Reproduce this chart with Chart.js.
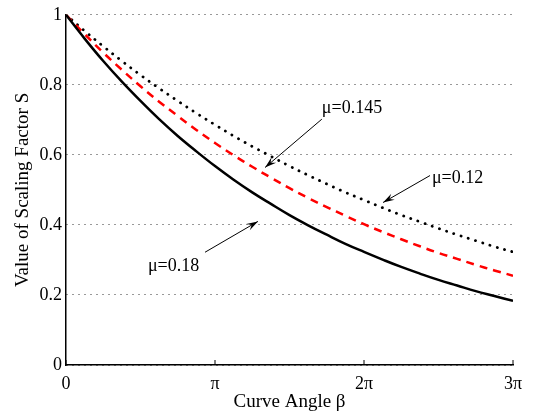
<!DOCTYPE html>
<html>
<head>
<meta charset="utf-8">
<script src="https://cdn.jsdelivr.net/npm/chart.js@4/dist/chart.umd.min.js"></script>
<style>
  html, body { margin: 0; padding: 0; background: #fff; }
  #wrap { width: 538px; height: 413px; }
</style>
</head>
<body>
<div id="wrap"><canvas id="chart" width="538" height="413"></canvas></div>
<script>
// Curve angle beta, in multiples of pi (step pi/8)
const betaOverPi = [0, 0.125, 0.25, 0.375, 0.5, 0.625, 0.75, 0.875, 1, 1.125, 1.25, 1.375, 1.5,
    1.625, 1.75, 1.875, 2, 2.125, 2.25, 2.375, 2.5, 2.625, 2.75, 2.875, 3];

// Scaling factor S
const sMu018 = [1, 0.932, 0.868, 0.809, 0.754, 0.702, 0.654, 0.610, 0.568, 0.529, 0.493, 0.460, 0.428,
    0.399, 0.372, 0.346, 0.323, 0.301, 0.280, 0.261, 0.243, 0.227, 0.211, 0.197, 0.183];
const sMu0145 = [1, 0.945, 0.892, 0.843, 0.796, 0.752, 0.711, 0.671, 0.634, 0.599, 0.566, 0.535, 0.505,
    0.477, 0.451, 0.426, 0.402, 0.380, 0.359, 0.339, 0.320, 0.303, 0.286, 0.270, 0.255];
const sMu012 = [1, 0.954, 0.910, 0.868, 0.828, 0.790, 0.754, 0.719, 0.686, 0.654, 0.624, 0.596, 0.568,
    0.542, 0.517, 0.493, 0.471, 0.449, 0.428, 0.409, 0.390, 0.372, 0.355, 0.338, 0.323];

const xTicks = [0, 1, 2, 3];
const xTickLabels = ['0', '\u03c0', '2\u03c0', '3\u03c0'];
const yTicks = [0, 0.2, 0.4, 0.6, 0.8, 1];

// callouts: text anchor and arrow (tail -> head) in data units
const callouts = [
    { text: '\u03bc=0.145', tx: 1.717, ty: 0.732, from: [1.717, 0.702], to: [1.336, 0.564] },
    { text: '\u03bc=0.12',  tx: 2.456, ty: 0.533, from: [2.443, 0.541], to: [2.128, 0.464] },
    { text: '\u03bc=0.18',  tx: 0.550, ty: 0.282, from: [0.933, 0.322], to: [1.288, 0.410] }
];

const serif = '"Liberation Serif", "DejaVu Serif", serif';

function pts(ys) {
    return betaOverPi.map((b, i) => ({ x: b, y: ys[i] }));
}

const calloutPlugin = {
    id: 'callouts',
    afterDatasetsDraw(chart) {
        const ctx = chart.ctx;
        const xs = chart.scales.x, ys = chart.scales.y;
        ctx.save();
        // small inward tick marks on the x axis
        ctx.strokeStyle = '#000';
        ctx.lineWidth = 1;
        xTicks.forEach(t => {
            const px = xs.getPixelForValue(t);
            ctx.beginPath();
            ctx.moveTo(px, ys.bottom);
            ctx.lineTo(px, ys.bottom - 5);
            ctx.stroke();
        });
        ctx.font = '18px ' + serif;
        ctx.fillStyle = '#000';
        ctx.textBaseline = 'middle';
        ctx.textAlign = 'left';
        callouts.forEach(c => {
            ctx.fillText(c.text, xs.getPixelForValue(c.tx), ys.getPixelForValue(c.ty));
            const x0 = xs.getPixelForValue(c.from[0]), y0 = ys.getPixelForValue(c.from[1]);
            const x1 = xs.getPixelForValue(c.to[0]), y1 = ys.getPixelForValue(c.to[1]);
            ctx.lineWidth = 1;
            ctx.beginPath();
            ctx.moveTo(x0, y0);
            ctx.lineTo(x1, y1);
            ctx.stroke();
            const a = Math.atan2(y1 - y0, x1 - x0);
            const len = 12, spread = 0.3;
            ctx.beginPath();
            ctx.moveTo(x1, y1);
            ctx.lineTo(x1 - len * Math.cos(a - spread), y1 - len * Math.sin(a - spread));
            ctx.lineTo(x1 - len * 0.6 * Math.cos(a), y1 - len * 0.6 * Math.sin(a));
            ctx.lineTo(x1 - len * Math.cos(a + spread), y1 - len * Math.sin(a + spread));
            ctx.closePath();
            ctx.fill();
        });
        ctx.restore();
    }
};

new Chart(document.getElementById('chart').getContext('2d'), {
    type: 'line',
    plugins: [calloutPlugin],
    data: {
        datasets: [
            {
                label: '\u03bc=0.18',
                data: pts(sMu018),
                borderColor: '#000',
                borderWidth: 2.5,
                pointRadius: 0,
                tension: 0.4
            },
            {
                label: '\u03bc=0.145',
                data: pts(sMu0145),
                borderColor: '#ff0000',
                borderWidth: 2.5,
                borderDash: [8, 6],
                pointRadius: 0,
                tension: 0.4
            },
            {
                label: '\u03bc=0.12',
                data: pts(sMu012),
                borderColor: '#000',
                borderWidth: 2.8,
                borderDash: [0.1, 7.5],
                borderCapStyle: 'round',
                pointRadius: 0,
                tension: 0.4
            }
        ]
    },
    options: {
        responsive: false,
        animation: false,
        layout: { padding: { top: 14, right: 25, left: 0, bottom: 0 } },
        plugins: { legend: { display: false }, tooltip: { enabled: false } },
        scales: {
            x: {
                type: 'linear',
                min: 0,
                max: 3,
                afterBuildTicks: s => { s.ticks = xTicks.map(v => ({ value: v })); },
                afterFit: s => { s.height = 48; },
                ticks: {
                    callback: (v) => xTickLabels[xTicks.indexOf(v)] || '',
                    color: '#000',
                    font: { family: serif, size: 18 },
                    padding: 0,
                    maxRotation: 0
                },
                grid: { display: false },
                border: { display: true, color: '#000', width: 1.5 },
                title: {
                    display: true,
                    text: 'Curve Angle \u03b2',
                    color: '#000',
                    font: { family: serif, size: 19 },
                    padding: { top: -6, bottom: 0 }
                }
            },
            y: {
                min: 0,
                max: 1,
                afterBuildTicks: s => { s.ticks = yTicks.map(v => ({ value: v })); },
                afterFit: s => { s.width = 66; },
                ticks: {
                    callback: v => String(v),
                    color: '#000',
                    font: { family: serif, size: 18 },
                    padding: 4
                },
                grid: {
                    color: '#333',
                    lineWidth: 1,
                    drawTicks: false
                },
                border: { display: true, color: '#000', width: 1.5, dash: [1, 5] },
                title: {
                    display: true,
                    text: 'Value of Scaling Factor S',
                    color: '#000',
                    font: { family: serif, size: 19 },
                    padding: { top: 12, bottom: 2 }
                }
            }
        }
    }
});
</script>
</body>
</html>
